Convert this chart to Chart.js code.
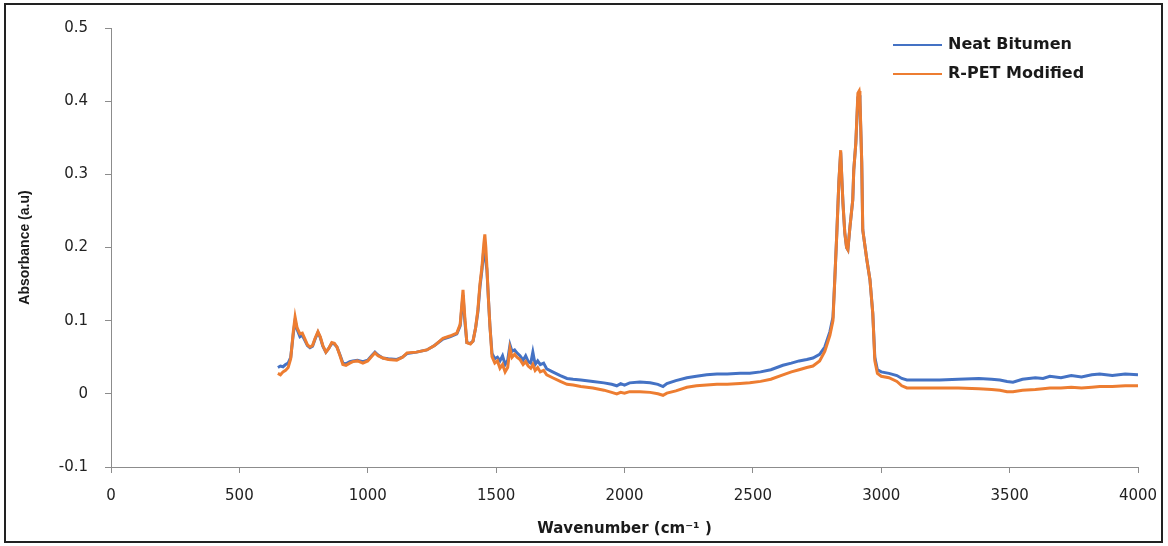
<!DOCTYPE html>
<html>
<head>
<meta charset="utf-8">
<script src="https://cdn.jsdelivr.net/npm/chart.js@4.4.1/dist/chart.umd.min.js"></script>
<style>
  html, body { margin: 0; padding: 0; background: #fff; }
  #wrap { position: relative; width: 1168px; height: 546px; }
  #frame { position: absolute; left: 4px; top: 3px; width: 1159px; height: 540px;
           box-sizing: border-box; border: 2px solid #222; pointer-events: none; }
  .leg { position: absolute; font: bold 16px "DejaVu Sans", sans-serif; color: #1a1a1a; }
  .leg span.ln { position: absolute; left: 0; width: 49px; height: 2px; }
  .leg span.tx { position: absolute; left: 55px; white-space: nowrap; line-height: 20px; }
</style>
</head>
<body>
<div id="wrap">
  <canvas id="ftir" width="1168" height="546"></canvas>
  <div id="frame"></div>
  <div class="leg" style="left:893px; top:34px;">
    <span class="ln" style="top:10px; background:#4472C4;"></span>
    <span class="tx" style="top:0;">Neat Bitumen</span>
  </div>
  <div class="leg" style="left:893px; top:63px;">
    <span class="ln" style="top:10px; background:#ED7D31;"></span>
    <span class="tx" style="top:0;">R-PET Modified</span>
  </div>
</div>
<script>
// wavenumber (cm-1) and absorbance
var wavenumber = [650,660,670,680,690,700,710,717,725,736,745,755,765,775,785,795,806,815,825,837,
  848,860,870,880,892,903,915,930,942,960,981,1000,1015,1028,1040,1059,1080,1113,1135,1153,
  1190,1230,1260,1293,1320,1347,1360,1371,1378,1386,1400,1410,1420,1429,1437,1445,1452,1456,1460,1464,
  1470,1476,1484,1495,1505,1515,1525,1535,1545,1554,1562,1572,1581,1593,1605,1615,1625,1635,1643,1652,
  1662,1672,1685,1697,1720,1750,1776,1800,1830,1877,1920,1950,1970,1985,2000,2020,2060,2100,2130,2150,
  2165,2200,2243,2280,2320,2360,2400,2450,2488,2530,2570,2617,2650,2680,2710,2734,2760,2780,2800,2812,
  2819,2827,2835,2842,2847,2851,2858,2865,2870,2878,2889,2893,2901,2909,2914,2917,2924,2928,2944,2956,
  2967,2975,2985,3000,3030,3061,3080,3100,3150,3228,3300,3380,3430,3462,3490,3513,3550,3600,3630,3657,
  3700,3740,3780,3820,3851,3900,3950,4000];

var neatBitumen = [0.036,0.038,0.037,0.040,0.042,0.050,0.082,0.100,0.088,0.078,0.080,0.073,0.066,0.063,0.065,0.075,0.084,0.077,0.065,0.057,
  0.062,0.069,0.068,0.064,0.053,0.042,0.041,0.044,0.045,0.046,0.044,0.046,0.052,0.057,0.053,0.049,0.048,0.047,0.050,0.055,
  0.057,0.060,0.066,0.075,0.078,0.082,0.093,0.135,0.100,0.070,0.069,0.072,0.090,0.112,0.146,0.170,0.198,0.200,0.180,0.170,
  0.130,0.092,0.055,0.048,0.050,0.045,0.052,0.040,0.046,0.067,0.058,0.060,0.056,0.052,0.046,0.052,0.044,0.042,0.057,0.040,
  0.045,0.040,0.042,0.034,0.030,0.025,0.021,0.020,0.019,0.017,0.015,0.013,0.011,0.014,0.012,0.015,0.016,0.015,0.013,0.010,
  0.014,0.018,0.022,0.024,0.026,0.027,0.027,0.028,0.028,0.030,0.033,0.039,0.042,0.045,0.047,0.049,0.054,0.064,0.085,0.105,
  0.156,0.220,0.290,0.330,0.290,0.260,0.220,0.200,0.197,0.228,0.265,0.306,0.343,0.405,0.408,0.400,0.316,0.224,0.183,0.156,
  0.110,0.050,0.033,0.030,0.028,0.025,0.021,0.019,0.019,0.019,0.020,0.021,0.020,0.019,0.017,0.016,0.020,0.022,0.021,0.024,
  0.022,0.025,0.023,0.026,0.027,0.025,0.027,0.026];

var rpetModified = [0.028,0.026,0.030,0.032,0.036,0.048,0.085,0.105,0.090,0.082,0.083,0.075,0.067,0.064,0.066,0.076,0.085,0.078,0.066,0.057,
  0.062,0.070,0.069,0.064,0.052,0.040,0.039,0.042,0.044,0.045,0.042,0.045,0.051,0.056,0.052,0.049,0.047,0.046,0.050,0.056,
  0.057,0.060,0.066,0.076,0.079,0.083,0.095,0.142,0.105,0.070,0.068,0.072,0.090,0.115,0.150,0.174,0.205,0.218,0.200,0.174,
  0.130,0.092,0.051,0.042,0.045,0.035,0.040,0.030,0.036,0.062,0.050,0.054,0.050,0.047,0.040,0.044,0.038,0.035,0.040,0.032,
  0.036,0.030,0.032,0.026,0.022,0.017,0.013,0.012,0.010,0.008,0.005,0.002,0.000,0.002,0.001,0.003,0.003,0.002,0.000,-0.002,
  0.001,0.004,0.009,0.011,0.012,0.013,0.013,0.014,0.015,0.017,0.020,0.026,0.030,0.033,0.036,0.038,0.045,0.058,0.080,0.100,
  0.156,0.220,0.290,0.333,0.290,0.260,0.220,0.200,0.197,0.228,0.265,0.306,0.343,0.411,0.414,0.405,0.316,0.224,0.183,0.156,
  0.110,0.045,0.028,0.024,0.022,0.017,0.011,0.008,0.008,0.008,0.008,0.007,0.006,0.005,0.003,0.003,0.005,0.006,0.007,0.008,
  0.008,0.009,0.008,0.009,0.010,0.010,0.011,0.011];

var xTicks = [0, 500, 1000, 1500, 2000, 2500, 3000, 3500, 4000];
var yTicks = [-0.1, 0, 0.1, 0.2, 0.3, 0.4, 0.5];

function pairs(ys) {
  return wavenumber.map(function (w, i) { return { x: w, y: ys[i] }; });
}

var tickFont = { family: '"DejaVu Sans", sans-serif', size: 15 };

var ctx = document.getElementById('ftir').getContext('2d');
var chart = new Chart(ctx, {
  type: 'scatter',
  data: {
    datasets: [
      // orange first so it is drawn on top, like the original
      { label: 'R-PET Modified', data: pairs(rpetModified), showLine: true,
        borderColor: '#ED7D31', backgroundColor: '#ED7D31', borderWidth: 3, pointRadius: 0, tension: 0 },
      { label: 'Neat Bitumen', data: pairs(neatBitumen), showLine: true,
        borderColor: '#4472C4', backgroundColor: '#4472C4', borderWidth: 3, pointRadius: 0, tension: 0 }
    ]
  },
  options: {
    responsive: false,
    animation: false,
    layout: { padding: { top: 28, right: 30, left: 0, bottom: 0 } },
    plugins: { legend: { display: false }, tooltip: { enabled: false } },
    scales: {
      x: {
        type: 'linear', min: xTicks[0], max: xTicks[xTicks.length - 1],
        afterBuildTicks: function (s) { s.ticks = xTicks.map(function (v) { return { value: v }; }); },
        afterFit: function (s) { s.height = 79; s.paddingLeft = 0; s.paddingRight = 0; },
        border: { color: '#8c8c8c', width: 1 },
        grid: { drawOnChartArea: false, tickLength: 6, color: '#8c8c8c' },
        ticks: { font: tickFont, color: '#222', padding: 14, maxRotation: 0,
                 callback: function (v) { return String(v); } },
        title: { display: true, text: 'Wavenumber (cm\u207B\u00B9 )', color: '#1a1a1a',
                 font: { family: '"DejaVu Sans", sans-serif', size: 15, weight: 'bold' },
                 padding: { top: 0, bottom: 8 } }
      },
      y: {
        min: yTicks[0], max: yTicks[yTicks.length - 1],
        afterBuildTicks: function (s) { s.ticks = yTicks.map(function (v) { return { value: v }; }); },
        afterFit: function (s) { s.width = 111; },
        border: { color: '#8c8c8c', width: 1 },
        grid: { drawOnChartArea: false, tickLength: 6, color: '#8c8c8c' },
        ticks: { font: tickFont, color: '#222', padding: 17,
                 callback: function (v) { return String(Number(v.toFixed(1))); } },
        title: { display: true, text: 'Absorbance (a.u)', color: '#1a1a1a',
                 font: { family: '"Liberation Sans", Arial, sans-serif', size: 14, weight: 'bold' },
                 padding: { top: 17, bottom: 0 } }
      }
    }
  }
});
</script>
</body>
</html>
